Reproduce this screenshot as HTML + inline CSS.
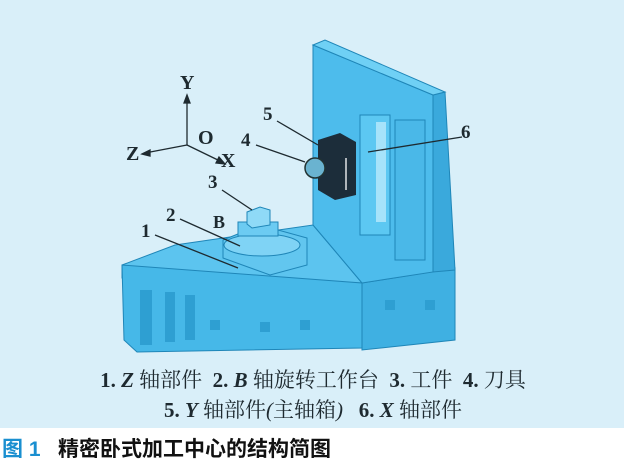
<!DOCTYPE html>
<html><head><meta charset="utf-8"><style>
body{margin:0;width:626px;height:463px;background:#fff;position:relative;overflow:hidden;font-family:"Liberation Serif","Noto Serif CJK SC",serif}
#bg{position:absolute;left:0;top:0;width:624px;height:428px;background:#d9eff9}
.t{position:absolute;white-space:nowrap;color:#1e2a30}
.leg{font-size:21px;left:0;width:626px;text-align:center}
.cap{position:absolute;top:433px;left:2px;font-family:"Liberation Sans","Noto Sans CJK SC",sans-serif;font-weight:bold;font-size:21px;color:#111}
</style></head><body>
<div id="bg"></div>
<svg width="626" height="463" style="position:absolute;left:0;top:0">
<g stroke="#1f86b8" stroke-width="1" fill="#46b8e8">
<polygon points="122,265 175,245 313,225 330,245 362,283 122,278" fill="#5cc4ef"/>
<polygon points="122,265 362,283 362,348 137,352 124,340"/>
<polygon points="362,283 455,268 455,340 362,350" fill="#3fb0e2"/>
<polygon points="313,45 433,95 433,272 362,283 330,245 313,225" fill="#4dbcec"/>
<polygon points="433,95 445,92 455,270 433,272" fill="#3aa9dc"/>
<polygon points="313,45 325,40 445,92 433,95" fill="#6fd0f5"/>
<rect x="360" y="115" width="30" height="120" fill="#5cc8f2"/>
<rect x="376" y="122" width="10" height="100" fill="#a6e3fa" stroke="none"/>
<rect x="395" y="120" width="30" height="140" fill="#4ab8e8"/>
<g fill="#2e9fd2" stroke="none"><rect x="140" y="290" width="12" height="55"/><rect x="165" y="292" width="10" height="50"/><rect x="185" y="295" width="10" height="45"/><rect x="210" y="320" width="10" height="10"/><rect x="260" y="322" width="10" height="10"/><rect x="300" y="320" width="10" height="10"/><rect x="385" y="300" width="10" height="10"/><rect x="425" y="300" width="10" height="10"/></g>
<polygon points="223,240 260,225 307,238 307,265 270,275 223,258" fill="#62c6ef"/>
<ellipse cx="262" cy="245" rx="38" ry="11" fill="#7fd3f5"/>
<rect x="238" y="222" width="40" height="14" fill="#6ccbf2"/>
<polygon points="247,212 260,207 270,210 270,225 252,228 247,224" fill="#8fdaf7"/>
</g>
<polygon points="318,140 340,133 356,142 356,195 335,200 318,190" fill="#1c2d3a"/>
<circle cx="315" cy="168" r="10" fill="#6ab3d0" stroke="#233" stroke-width="1.5"/>
<g stroke="#1e2a30" stroke-width="1.3" fill="none">
<line x1="187" y1="145" x2="187" y2="98"/><polygon points="187,95 184,103 190,103" fill="#1e2a30"/>
<line x1="187" y1="145" x2="145" y2="153"/><polygon points="142,154 150,150 150,156" fill="#1e2a30"/>
<line x1="187" y1="145" x2="222" y2="162"/><polygon points="225,164 216,163 219,157" fill="#1e2a30"/>
<line x1="277" y1="121" x2="318" y2="145"/>
<line x1="256" y1="145" x2="305" y2="162"/>
<line x1="462" y1="137" x2="368" y2="152"/>
<line x1="222" y1="190" x2="252" y2="210"/>
<line x1="180" y1="219" x2="240" y2="246"/>
<line x1="155" y1="235" x2="238" y2="268"/>
<line x1="346" y1="158" x2="346" y2="190" stroke="#fff"/>
</g>
</svg>
<div class="t" style="left:180px;top:72px;font-size:20px;font-weight:bold">Y</div>
<div class="t" style="left:198px;top:127px;font-size:20px;font-weight:bold">O</div>
<div class="t" style="left:126px;top:143px;font-size:20px;font-weight:bold">Z</div>
<div class="t" style="left:221px;top:150px;font-size:20px;font-weight:bold">X</div>
<div class="t" style="left:263px;top:104px;font-size:19px;font-weight:bold">5</div>
<div class="t" style="left:241px;top:130px;font-size:19px;font-weight:bold">4</div>
<div class="t" style="left:461px;top:122px;font-size:19px;font-weight:bold">6</div>
<div class="t" style="left:208px;top:172px;font-size:19px;font-weight:bold">3</div>
<div class="t" style="left:166px;top:205px;font-size:19px;font-weight:bold">2</div>
<div class="t" style="left:213px;top:212px;font-size:18px;font-weight:bold">B</div>
<div class="t" style="left:141px;top:221px;font-size:19px;font-weight:bold">1</div>
<div class="t leg" style="top:364px"><b>1.</b> <b><i>Z</i></b> 轴部件 &nbsp;<b>2.</b> <b><i>B</i></b> 轴旋转工作台 &nbsp;<b>3.</b> 工件 &nbsp;<b>4.</b> 刀具</div>
<div class="t leg" style="top:394px"><b>5.</b> <b><i>Y</i></b> 轴部件<i>(</i>主轴箱<i>)</i> &nbsp; <b>6.</b> <b><i>X</i></b> 轴部件</div>
<div class="cap"><span style="color:#1a8fd0">图 1</span>&nbsp;&nbsp; 精密卧式加工中心的结构简图</div>
</body></html>
